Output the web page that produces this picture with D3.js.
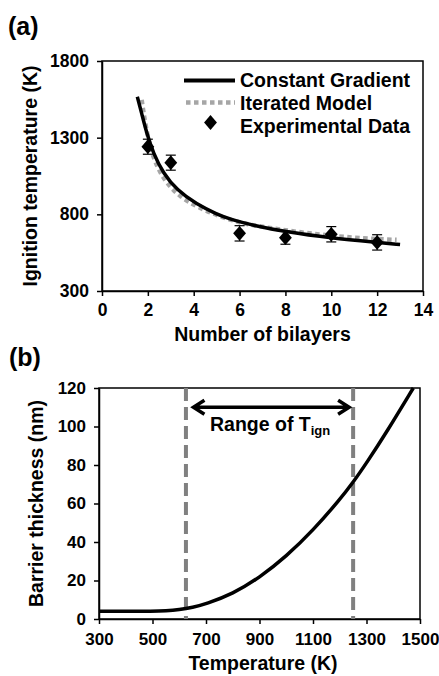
<!DOCTYPE html>
<html>
<head>
<meta charset="utf-8">
<script src="https://cdn.jsdelivr.net/npm/d3@7"></script>
<style>
  body { margin: 0; background: #fff; }
  svg text { font-family: "Liberation Sans", Arial, sans-serif; font-weight: bold; fill: #000; }
</style>
</head>
<body>
<div id="chart"></div>
<script>
const width = 439, height = 676;

// panel (a) data
const bilayerTicks = [0, 2, 4, 6, 8, 10, 12, 14];
const ignTicks = [300, 800, 1300, 1800];
const expBilayers = [2, 3, 6, 8, 10, 12];
const expTemp = [1241, 1137, 676, 648, 670, 617];
const expErr = [49, 49, 50, 43, 50, 50];
const constBilayers = [1.54, 1.73, 1.95, 2.24, 2.67, 3.26, 4.13, 5.0, 5.58, 6.6, 8, 10, 12, 13];
const constTemp = [1567, 1459, 1328, 1198, 1068, 959, 865, 802, 768, 728, 686, 645, 617, 603];
const iterBilayers = [1.73, 1.88, 2.09, 2.39, 2.82, 3.4, 4.13, 5.15, 6.02, 6.75, 8, 10, 12, 12.85];
const iterTemp = [1546, 1394, 1241, 1111, 1002, 915, 850, 784, 746, 724, 695, 658, 638, 634];

// panel (b) data
const tempTicks = [300, 500, 700, 900, 1100, 1300, 1500];
const thickTicks = [0, 20, 40, 60, 80, 100, 120];
const curveTemp = [300, 400, 500, 550, 600, 650, 700, 800, 900, 1000, 1100, 1200, 1250, 1300, 1375, 1475];
const curveThick = [4, 4, 4, 4.2, 4.8, 6, 7.8, 13, 21.5, 32.5, 46, 62, 71, 81, 97, 120];
const ignRange = [625, 1250];

const svg = d3.select("#chart").append("svg")
    .attr("width", width)
    .attr("height", height);

const fmt = d3.format("d");

// ---------- panel (a) ----------
const xA = d3.scaleLinear().domain([0, 14]).range([102, 423]);
const yA = d3.scaleLinear().domain([300, 1800]).range([291, 61]);

const gA = svg.append("g");

gA.append("rect")
    .attr("x", xA(0)).attr("y", yA(1800))
    .attr("width", xA(14) - xA(0)).attr("height", yA(300) - yA(1800))
    .attr("fill", "none").attr("stroke", "#000").attr("stroke-width", 1.5);

gA.append("g")
    .attr("transform", `translate(0,${yA(300)})`)
    .call(d3.axisBottom(xA).tickValues(bilayerTicks).tickFormat(fmt).tickSize(5).tickSizeOuter(0).tickPadding(8))
    .call(g => g.selectAll("text").style("font-size", "17.5px"));

gA.append("g")
    .attr("transform", `translate(${xA(0)},0)`)
    .call(d3.axisLeft(yA).tickValues(ignTicks).tickFormat(fmt).tickSize(5).tickSizeOuter(0).tickPadding(8))
    .call(g => g.selectAll("text").style("font-size", "17.5px"));

gA.selectAll(".domain, .tick line").attr("stroke", "#000").attr("stroke-width", 1.5);

const lineA = d3.line().curve(d3.curveBasis)
    .x(d => xA(d[0])).y(d => yA(d[1]));

gA.append("path")
    .datum(d3.zip(iterBilayers, iterTemp))
    .attr("d", lineA)
    .attr("fill", "none").attr("stroke", "#a6a6a6")
    .attr("stroke-width", 4.5).attr("stroke-dasharray", "4.5,3.5");

gA.append("path")
    .datum(d3.zip(constBilayers, constTemp))
    .attr("d", lineA)
    .attr("fill", "none").attr("stroke", "#000")
    .attr("stroke-width", 3.5);

const exp = d3.zip(expBilayers, expTemp, expErr);
const errG = gA.append("g").attr("stroke", "#000").attr("stroke-width", 1.2);
exp.forEach(([n, t, e]) => {
    errG.append("line").attr("x1", xA(n)).attr("x2", xA(n)).attr("y1", yA(t - e)).attr("y2", yA(t + e));
    errG.append("line").attr("x1", xA(n) - 5).attr("x2", xA(n) + 5).attr("y1", yA(t - e)).attr("y2", yA(t - e));
    errG.append("line").attr("x1", xA(n) - 5).attr("x2", xA(n) + 5).attr("y1", yA(t + e)).attr("y2", yA(t + e));
});

const diamond = d3.symbol().type(d3.symbolDiamond2).size(105);
gA.selectAll(".pt")
    .data(exp)
    .join("path")
    .attr("class", "pt")
    .attr("d", diamond)
    .attr("transform", d => `translate(${xA(d[0])},${yA(d[1])}) scale(1,1.15)`)
    .attr("fill", "#000");

// legend
const leg = gA.append("g");
leg.append("line").attr("x1", 184).attr("x2", 235).attr("y1", 80.5).attr("y2", 80.5)
    .attr("stroke", "#000").attr("stroke-width", 4);
leg.append("line").attr("x1", 186).attr("x2", 235).attr("y1", 102.5).attr("y2", 102.5)
    .attr("stroke", "#a6a6a6").attr("stroke-width", 4.5).attr("stroke-dasharray", "4.5,3.5");
leg.append("path").attr("d", diamond)
    .attr("transform", "translate(210.5,122.5) scale(1,1.15)").attr("fill", "#000");
leg.selectAll("text")
    .data(["Constant Gradient", "Iterated Model", "Experimental Data"])
    .join("text")
    .attr("x", 240)
    .attr("y", (d, i) => 87 + i * 23)
    .style("font-size", "19.5px")
    .text(d => d);

gA.append("text")
    .attr("x", xA(7)).attr("y", 341)
    .attr("text-anchor", "middle")
    .style("font-size", "19.5px")
    .text("Number of bilayers");

gA.append("text")
    .attr("transform", `translate(37,${(yA(300) + yA(1800)) / 2}) rotate(-90)`)
    .attr("text-anchor", "middle")
    .style("font-size", "19.5px")
    .text("Ignition temperature (K)");

svg.append("text").attr("x", 8).attr("y", 34.5)
    .style("font-size", "25px").text("(a)");

// ---------- panel (b) ----------
const xB = d3.scaleLinear().domain([300, 1500]).range([99, 420]);
const yB = d3.scaleLinear().domain([0, 120]).range([619, 388]);

const gB = svg.append("g");

gB.append("rect")
    .attr("x", xB(300)).attr("y", yB(120))
    .attr("width", xB(1500) - xB(300)).attr("height", yB(0) - yB(120))
    .attr("fill", "none").attr("stroke", "#000").attr("stroke-width", 1.5);

gB.append("g")
    .attr("transform", `translate(0,${yB(0)})`)
    .call(d3.axisBottom(xB).tickValues(tempTicks).tickFormat(fmt).tickSize(5).tickSizeOuter(0).tickPadding(9))
    .call(g => g.selectAll("text").style("font-size", "17px"));

gB.append("g")
    .attr("transform", `translate(${xB(300)},0)`)
    .call(d3.axisLeft(yB).tickValues(thickTicks).tickFormat(fmt).tickSize(5).tickSizeOuter(0).tickPadding(8))
    .call(g => g.selectAll("text").style("font-size", "17px"));

gB.selectAll(".domain, .tick line").attr("stroke", "#000").attr("stroke-width", 1.5);

gB.selectAll(".ign")
    .data(ignRange)
    .join("line")
    .attr("class", "ign")
    .attr("x1", d => xB(d)).attr("x2", d => xB(d))
    .attr("y1", yB(120)).attr("y2", yB(0))
    .attr("stroke", "#808080").attr("stroke-width", 4)
    .attr("stroke-dasharray", "13,6");

gB.append("path")
    .datum(d3.zip(curveTemp, curveThick))
    .attr("d", d3.line().curve(d3.curveBasis).x(d => xB(d[0])).y(d => yB(d[1])))
    .attr("fill", "none").attr("stroke", "#000").attr("stroke-width", 3.5);

// range arrow
const ay = yB(110), ax1 = xB(ignRange[0]) + 7.5, ax2 = xB(ignRange[1]) - 4;
gB.append("path")
    .attr("d", `M${ax1},${ay}H${ax2}M${ax1 + 11},${ay - 7}L${ax1},${ay}L${ax1 + 11},${ay + 7}` +
        `M${ax2 - 11},${ay - 7}L${ax2},${ay}L${ax2 - 11},${ay + 7}`)
    .attr("fill", "none").attr("stroke", "#000").attr("stroke-width", 3.5)
    .attr("stroke-linejoin", "miter");

const rt = gB.append("text").attr("x", 210).attr("y", 431).style("font-size", "19.5px");
rt.append("tspan").text("Range of T");
rt.append("tspan").attr("dy", 4).style("font-size", "13px").text("ign");

gB.append("text")
    .attr("x", 263).attr("y", 670)
    .attr("text-anchor", "middle")
    .style("font-size", "19.5px")
    .text("Temperature (K)");

gB.append("text")
    .attr("transform", `translate(43,${(yB(0) + yB(120)) / 2}) rotate(-90)`)
    .attr("text-anchor", "middle")
    .style("font-size", "19.5px")
    .text("Barrier thickness (nm)");

svg.append("text").attr("x", 9).attr("y", 366)
    .style("font-size", "25px").text("(b)");
</script>
</body>
</html>
